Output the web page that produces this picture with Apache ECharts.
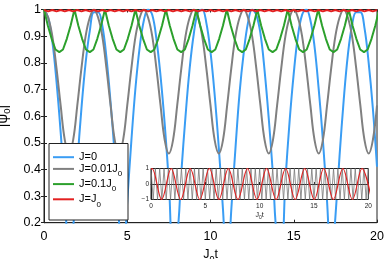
<!DOCTYPE html>
<html><head><meta charset="utf-8">
<script src="https://cdn.jsdelivr.net/npm/echarts@6/dist/echarts.min.js"></script>
<style>html,body{margin:0;padding:0;background:#fff}#c{width:388px;height:259px}</style>
</head><body><div id="c"></div>
<script>
// ---- data ----
const tMain = [0,0.25,0.5,0.75,1,1.25,1.5,1.75,2,2.25,2.5,2.75,3,3.25,3.5,3.75,4,4.25,4.5,4.75,5,5.25,5.5,5.75,6,6.25,6.5,6.75,7,7.25,7.5,7.75,8,8.25,8.5,8.75,9,9.25,9.5,9.75,10,10.25,10.5,10.75,11,11.25,11.5,11.75,12,12.25,12.5,12.75,13,13.25,13.5,13.75,14,14.25,14.5,14.75,15,15.25,15.5,15.75,16,16.25,16.5,16.75,17,17.25,17.5,17.75,18,18.25,18.5,18.75,19,19.25,19.5,19.75,20];
const psiJ0 = [1,0.97,0.88,0.73, 0.54,0.32,0.07,0.18, 0.42,0.63,0.80,0.92, 0.99,0.99,0.94,0.82, 0.65,0.45,0.21,0.04, 0.28,0.51,0.71,0.86, 0.96,1.00,0.98,0.89, 0.75,0.57,0.35,0.11, 0.15,0.39,0.60,0.78, 0.91,0.99,1.00,0.95, 0.84,0.68,0.48,0.25, 0.00,0.25,0.48,0.69, 0.84,0.95,1.00,0.98, 0.91,0.77,0.59,0.38, 0.14,0.12,0.36,0.58, 0.76,0.90,0.98,1.00, 0.96,0.86,0.70,0.51, 0.28,0.03,0.22,0.45, 0.66,0.83,0.94,0.99, 0.99,0.93,0.80,0.63, 0.41];
const psiJ001 = [1,0.97,0.9,0.78,0.64,0.51,0.46,0.51,0.64,0.78,0.9,0.97, 1,0.97,0.9,0.78,0.64,0.51,0.46,0.51,0.64,0.78,0.9,0.97, 1,0.97,0.9,0.78,0.64,0.51,0.46,0.51,0.64,0.78,0.9,0.97, 1,0.97,0.9,0.78,0.64,0.51,0.46,0.51,0.64,0.78,0.9,0.97, 1,0.97,0.9,0.78,0.64,0.51,0.46,0.51,0.64,0.78,0.9,0.97, 1,0.97,0.9,0.78,0.64,0.51,0.46,0.51,0.64,0.78,0.9,0.97, 1,0.97,0.9,0.78,0.64,0.51,0.46,0.51,0.64];
const psiJ1 = [0.998,0.993,0.998,0.993,0.998,0.993,0.998,0.993,0.998,0.993,0.998,0.993,0.998,0.993,0.998,0.993,0.998,0.993,0.998,0.993,0.998,0.993,0.998,0.993,0.998,0.993,0.998,0.993,0.998,0.993,0.998,0.993,0.998,0.993,0.998,0.993,0.998,0.993,0.998,0.993,0.998,0.993,0.998,0.993,0.998,0.993,0.998,0.993,0.998,0.993,0.998,0.993,0.998,0.993,0.998,0.993,0.998,0.993,0.998,0.993,0.998,0.993,0.998,0.993,0.998,0.993,0.998,0.993,0.998,0.993,0.998,0.993,0.998,0.993,0.998,0.993,0.998,0.993,0.998,0.993,0.998];
const tGreen = [0,0.23,0.46,0.69,0.92,1.14,1.37,1.6, 1.83,2.06,2.29,2.52,2.75,2.97,3.2,3.43, 3.66,3.89,4.12,4.35,4.58,4.8,5.03,5.26, 5.49,5.72,5.95,6.18,6.41,6.63,6.86,7.09, 7.32,7.55,7.78,8.01,8.24,8.46,8.69,8.92, 9.15,9.38,9.61,9.84,10.07,10.29,10.52,10.75, 10.98,11.21,11.44,11.67,11.9,12.12,12.35,12.58, 12.81,13.04,13.27,13.5,13.73,13.95,14.18,14.41, 14.64,14.87,15.1,15.33,15.56,15.78,16.01,16.24, 16.47,16.7,16.93,17.16,17.39,17.61,17.84,18.07, 18.3,18.53,18.76,18.99,19.22,19.44,19.67,19.9, 20.13];
const psiJ01 = [1,0.94,0.89,0.85,0.84,0.85,0.89,0.94, 1,0.94,0.89,0.85,0.84,0.85,0.89,0.94, 1,0.94,0.89,0.85,0.84,0.85,0.89,0.94, 1,0.94,0.89,0.85,0.84,0.85,0.89,0.94, 1,0.94,0.89,0.85,0.84,0.85,0.89,0.94, 1,0.94,0.89,0.85,0.84,0.85,0.89,0.94, 1,0.94,0.89,0.85,0.84,0.85,0.89,0.94, 1,0.94,0.89,0.85,0.84,0.85,0.89,0.94, 1,0.94,0.89,0.85,0.84,0.85,0.89,0.94, 1,0.94,0.89,0.85,0.84,0.85,0.89,0.94, 1,0.94,0.89,0.85,0.84,0.85,0.89,0.94, 1];
const tInsetGray = [0,0.2,0.4,0.6,0.8,1,1.2,1.4,1.6,1.8,2,2.2,2.4,2.6,2.8,3,3.2,3.4,3.6,3.8,4,4.2,4.4,4.6,4.8,5,5.2,5.4,5.6,5.8,6,6.2,6.4,6.6,6.8,7,7.2,7.4,7.6,7.8,8,8.2,8.4,8.6,8.8,9,9.2,9.4,9.6,9.8,10,10.2,10.4,10.6,10.8,11,11.2,11.4,11.6,11.8,12,12.2,12.4,12.6,12.8,13,13.2,13.4,13.6,13.8,14,14.2,14.4,14.6,14.8,15,15.2,15.4,15.6,15.8,16,16.2,16.4,16.6,16.8,17,17.2,17.4,17.6,17.8,18,18.2,18.4,18.6,18.8,19,19.2,19.4,19.6,19.8,20];
const insetGray = [1,-1,1,-1,1,-1,1,-1,1,-1,1,-1,1,-1,1,-1,1,-1,1,-1,1,-1,1,-1,1,-1,1,-1,1,-1,1,-1,1,-1,1,-1,1,-1,1,-1,1,-1,1,-1,1,-1,1,-1,1,-1,1,-1,1,-1,1,-1,1,-1,1,-1,1,-1,1,-1,1,-1,1,-1,1,-1,1,-1,1,-1,1,-1,1,-1,1,-1,1,-1,1,-1,1,-1,1,-1,1,-1,1,-1,1,-1,1,-1,1,-1,1,-1,1];
const tInsetRed = [0,0.1,0.98,1.86,2.73,3.61,4.49,5.37,6.25,7.12,8.0,8.88,9.76,10.64,11.51,12.39,13.27,14.15,15.03,15.9,16.78,17.66,18.54,19.42,20.3];
const insetRed = [0.94,1,-1,1,-1,1,-1,1,-1,1,-1,1,-1,1,-1,1,-1,1,-1,1,-1,1,-1,1,-1];
const seriesNames = ['J=0','J=0.01J0','J=0.1J0','J=J0'];
const legendLabels = {'J=0':'{n|J=0}','J=0.01J0':'{n|J=0.01J}{s|0}','J=0.1J0':'{n|J=0.1J}{s|0}','J=J0':'{n|J=J}{s|0}'};
const colors = ['#3a9df4','#808080','#2ca02c','#e32020'];

function pairs(xs, ys){ return xs.map((x,i)=>[x, ys[i]]); }
const FF = '"Liberation Sans", Arial, sans-serif';
const AX = '#222';

const chart = echarts.init(document.getElementById('c'), null, {renderer:'canvas'});
const mainSeries = (name, xs, ys, color, smooth) => ({
  name, type:'line', xAxisIndex:0, yAxisIndex:0, data:pairs(xs, ys),
  symbol:'none', showSymbol:false, smooth, clip:true, z:2,
  lineStyle:{color, width:2}, itemStyle:{color}
});
chart.setOption({
  animation:false,
  color: colors,
  grid:[
    {left:44, right:11, top:9.5, bottom:36.3, show:true, borderColor:AX, borderWidth:1, backgroundColor:'transparent', outerBoundsMode:'none', containLabel:false},
    {left:151, right:19.7, top:168.5, bottom:59.5, show:true, borderColor:AX, borderWidth:1, backgroundColor:'#fff', z:3, outerBoundsMode:'none', containLabel:false}
  ],
  xAxis:[
    {gridIndex:0, type:'value', min:0, max:20, interval:5, position:'bottom',
     axisLine:{show:true, lineStyle:{color:AX, width:1}}, axisTick:{inside:true, length:3, lineStyle:{color:AX}},
     axisLabel:{fontSize:12.5, color:'#000', margin:7, fontFamily:FF}, splitLine:{show:false},
     name:'{n|J}{s|0}{n|t}', nameLocation:'middle', nameGap:15,
     nameTextStyle:{fontFamily:FF, color:'#000', rich:{n:{fontSize:12.5, fontFamily:FF, color:'#000', lineHeight:20}, s:{fontSize:9, fontFamily:FF, color:'#000', verticalAlign:'bottom'}}}},
    {gridIndex:0, type:'value', min:0, max:20, interval:5, position:'top',
     axisLine:{show:true, lineStyle:{color:AX, width:1}}, axisTick:{inside:true, length:3, lineStyle:{color:AX}},
     axisLabel:{show:false}, splitLine:{show:false}},
    {gridIndex:1, type:'value', min:0, max:20, interval:5, position:'bottom', z:4,
     axisLine:{show:true, lineStyle:{color:AX, width:1}}, axisTick:{inside:true, length:2, lineStyle:{color:AX}},
     axisLabel:{fontSize:6.5, color:'#222', margin:3, fontFamily:FF}, splitLine:{show:false},
     name:'{n|J}{s|0}{n|t}', nameLocation:'middle', nameGap:10,
     nameTextStyle:{fontFamily:FF, color:'#222', rich:{n:{fontSize:7, fontFamily:FF, color:'#222', lineHeight:11}, s:{fontSize:5, fontFamily:FF, color:'#222', verticalAlign:'bottom'}}}}
  ],
  yAxis:[
    {gridIndex:0, type:'value', min:0.2, max:1, interval:0.1, position:'left',
     axisLine:{show:true, lineStyle:{color:AX, width:1}}, axisTick:{inside:true, length:3, lineStyle:{color:AX}},
     axisLabel:{fontSize:12.5, color:'#000', margin:3, fontFamily:FF}, splitLine:{show:false},
     name:'{n||ψ}{s|0}{n||}', nameLocation:'middle', nameGap:16,
     nameTextStyle:{fontFamily:FF, color:'#000', rich:{n:{fontSize:14, fontFamily:FF, color:'#000', lineHeight:20}, s:{fontSize:9.5, fontFamily:FF, color:'#000', verticalAlign:'bottom'}}}},
    {gridIndex:0, type:'value', min:0.2, max:1, interval:0.1, position:'right',
     axisLine:{show:true, lineStyle:{color:AX, width:1}}, axisTick:{inside:true, length:3, lineStyle:{color:AX}},
     axisLabel:{show:false}, splitLine:{show:false}},
    {gridIndex:1, type:'value', min:-1, max:1, interval:1, position:'left', z:4,
     axisLine:{show:true, lineStyle:{color:AX, width:1}}, axisTick:{inside:true, length:2, lineStyle:{color:AX}},
     axisLabel:{fontSize:6.5, color:'#222', margin:2, fontFamily:FF, formatter:v=> v<0 ? '\u2212'+(-v) : String(v)}, splitLine:{show:false}}
  ],
  graphic:[{type:'rect', shape:{x:49, y:143.5, width:79, height:76.5}, style:{fill:'#fff', stroke:AX, lineWidth:1}, z:15, silent:true}],
  legend:{
    data:seriesNames, orient:'vertical', left:53, top:151.7, itemWidth:21, itemHeight:2, itemGap:0.7, z:20,
    icon:'rect', padding:0, formatter:n=>legendLabels[n],
    textStyle:{fontFamily:FF, fontSize:11, color:'#000',
      rich:{n:{fontSize:11, fontFamily:FF, color:'#000', lineHeight:18}, s:{fontSize:8, fontFamily:FF, color:'#000', verticalAlign:'bottom'}}}
  },
  series:[
    mainSeries(seriesNames[0], tMain, psiJ0, colors[0], 0.4),
    mainSeries(seriesNames[1], tMain, psiJ001, colors[1], 0.4),
    mainSeries(seriesNames[2], tGreen, psiJ01, colors[2], false),
    mainSeries(seriesNames[3], tMain, psiJ1, colors[3], false),
    {type:'line', xAxisIndex:2, yAxisIndex:2, data:pairs(tInsetGray, insetGray), symbol:'none', clip:true, z:4,
     lineStyle:{color:'#777', width:0.8}, silent:true},
    {type:'line', xAxisIndex:2, yAxisIndex:2, data:pairs(tInsetRed, insetRed), symbol:'none', clip:true, z:5, smooth:0.35,
     lineStyle:{color:'#e02020', width:1.2}, silent:true}
  ]
});
</script></body></html>
